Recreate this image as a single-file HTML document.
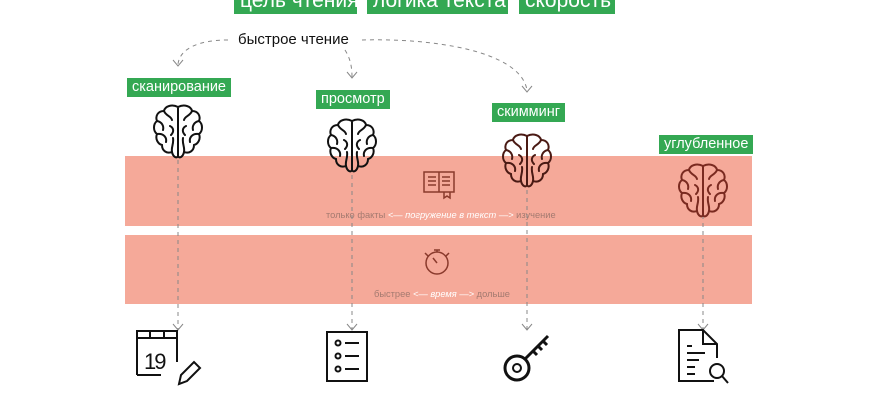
<!DOCTYPE html>
<html><head><meta charset="utf-8"><style>
body{margin:0;width:870px;height:400px;overflow:hidden;background:#fff;font-family:"Liberation Sans","DejaVu Sans",sans-serif;position:relative}
.tag{position:absolute;background:#34a853;color:#fff;font-size:14.5px;line-height:19px;padding:0 5px;white-space:nowrap}
.big{font-size:21px;line-height:26px;padding:0 6px}
.band{position:absolute;left:125px;width:627px;background:#f5a999}
.bt{position:absolute;font-size:9.3px;color:#a47a70;white-space:nowrap}
.bt i{color:#fff}
</style></head><body>
<div class="tag big" style="left:234px;top:-12px;width:111px">цель чтения</div>
<div class="tag big" style="left:367px;top:-12px;width:129px">логика текста</div>
<div class="tag big" style="left:519px;top:-12px;width:84px">скорость</div>
<div style="position:absolute;left:238px;top:31px;font-size:15px;color:#111">быстрое чтение</div>
<div class="band" style="top:156px;height:70px"></div>
<div class="band" style="top:235px;height:69px"></div>
<div class="bt" style="left:326px;top:210px">только факты <i>&lt;— погружение в текст —&gt;</i> изучение</div>
<div class="bt" style="left:374px;top:289px">быстрее <i>&lt;— время —&gt;</i> дольше</div>
<div class="tag" style="left:127px;top:78px">сканирование</div>
<div class="tag" style="left:316px;top:90px">просмотр</div>
<div class="tag" style="left:492px;top:103px">скимминг</div>
<div class="tag" style="left:659px;top:135px">углубленное</div>
<svg width="870" height="400" style="position:absolute;left:0;top:0">
<defs>
<symbol id="br" viewBox="0 0 52 56">
<g fill="none" stroke-width="2" stroke-linecap="round">
<path d="M26 3 C20 0 13 2 12 7 C6 7 3 12 5 17 C1 20 1 27 5 30 C3 35 6 40 10 41 C10 47 15 50 20 48 C21 53 25 55 26 52 C27 55 31 53 32 48 C37 50 42 47 42 41 C46 40 49 35 47 30 C51 27 51 20 47 17 C49 12 46 7 40 7 C39 2 32 0 26 3 Z M26 3 V52"/>
<path d="M12 7 C14 12 19 12 20 16 M5 17 C10 18 12 22 11 26 M5 30 C11 29 15 33 14 38 M20 48 C19 43 22 40 21 34 M18 22 C22 24 22 28 19 31 M40 7 C38 12 33 12 32 16 M47 17 C42 18 40 22 41 26 M47 30 C41 29 37 33 38 38 M32 48 C33 43 30 40 31 34 M34 22 C30 24 30 28 33 31"/>
</g></symbol>
</defs>
<g stroke="#888" stroke-width="1" stroke-dasharray="4,4" fill="none">
<path d="M228 40 C200 40 180 48 178 64"/>
<path d="M345 50 C350 58 352 66 352 77"/>
<path d="M362 40 C430 38 520 50 527 90"/>
<path d="M178 160 V330 M352 175 V330 M527 190 V330 M703 215 V330"/>
</g>
<g stroke="#888" stroke-width="1" fill="none">
<path d="M173 60 l5 6 l5 -6 M347 72 l5 6 l5 -6 M522 86 l5 6 l5 -6 M173 324 l5 6 l5 -6 M347 324 l5 6 l5 -6 M522 324 l5 6 l5 -6 M698 324 l5 6 l5 -6"/>
</g>
<use href="#br" x="152" y="104" width="52" height="56" stroke="#111"/>
<use href="#br" x="326" y="118" width="52" height="56" stroke="#111"/>
<use href="#br" x="501" y="133" width="52" height="56" stroke="#4a1a14"/>
<use href="#br" x="677" y="163" width="52" height="56" stroke="#7a2a20"/>
<g stroke="#8a3a2c" stroke-width="1.5" fill="none">
<path d="M424 172 h15 v20 h-15 z M439 172 h15 v20 h-15 z M428 177 h8 M428 181 h8 M428 185 h8 M442 177 h8 M442 181 h8 M442 185 h8 M444 192 v6 l3 -2 l3 2 v-6"/>
</g>
<g stroke="#8a3a2c" stroke-width="1.5" fill="none">
<circle cx="437" cy="263" r="11"/><path d="M434 250 h6 M437 250 v2 M425 253 l3 3 M449 253 l-3 3 M437 263 l-4 -5"/>
</g>
<g stroke="#111" stroke-width="2" fill="none">
<path d="M137 375 V331 H177 V362 M137 338 H177 M150 331 V338 M164 331 V338 M137 375 H161"/>
<path d="M179 384 l2 -9 l13 -13 l6 6 l-13 13 z"/>
</g>
<text x="144" y="369" font-size="22" font-family="Liberation Sans" fill="#111" letter-spacing="-2">19</text>
<g stroke="#111" stroke-width="2" fill="none">
<rect x="327" y="332" width="40" height="49"/>
<circle cx="338" cy="343" r="2.5"/><circle cx="338" cy="356" r="2.5"/><circle cx="338" cy="369" r="2.5"/>
<path d="M345 343 h14 M345 356 h14 M345 369 h14"/>
</g>
<g stroke="#111" stroke-width="3" fill="none">
<circle cx="517" cy="368" r="12"/><circle cx="517" cy="368" r="4" stroke-width="2"/>
<path d="M525 359 L548 336 M533 351 l4 4 M538 346 l4 4 M543 341 l4 4"/>
</g>
<g stroke="#111" stroke-width="2" fill="none">
<path d="M714 381 H679 V330 H703 L717 344 V358 M703 330 V344 H717"/>
<path d="M687 346 h5 M687 353 h18 M687 360 h12 M687 367 h8 M687 374 h8"/>
<circle cx="717" cy="371" r="7"/><path d="M722 376 l6 7"/>
</g>
</svg>
</body></html>
